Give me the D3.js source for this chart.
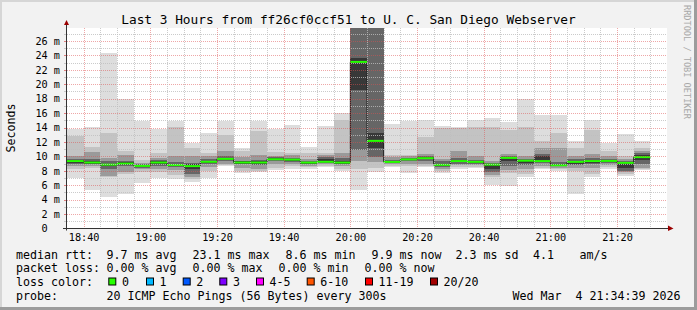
<!DOCTYPE html>
<html lang="en">
<head>
  <meta charset="utf-8">
  <title>Last 3 Hours from ff26cf0ccf51 to U. C. San Diego Webserver</title>
  <style>
    body { margin: 0; background: #f2f2f2; }
    svg { display: block; font-family: "DejaVu Sans Mono", monospace; }
    .pre { white-space: pre; }
  </style>
</head>
<body>
  <script src="https://cdnjs.cloudflare.com/ajax/libs/d3/7.8.5/d3.min.js"></script>
  <script type="text/javascript">
  // one smoke bar every 5 minutes (start time of each step)
  const times = ["18:35", "18:40", "18:45", "18:50", "18:55", "19:00", "19:05", "19:10", "19:15", "19:20",
                 "19:25", "19:30", "19:35", "19:40", "19:45", "19:50", "19:55", "20:00", "20:05", "20:10",
                 "20:15", "20:20", "20:25", "20:30", "20:35", "20:40", "20:45", "20:50", "20:55", "21:00",
                 "21:05", "21:10", "21:15", "21:20", "21:25"];

  // median rtt in ms
  const median = [9.35, 9.15, 8.85, 9.0, 8.68, 9.15, 8.8, 8.65, 9.25, 9.65,
                  9.15, 9.15, 9.6, 9.55, 9.14, 9.25, 9.14, 23.1, 12.15, 9.23,
                  9.58, 9.75, 8.82, 9.35, 9.24, 8.85, 9.79, 9.4, 9.35, 8.77,
                  9.24, 9.35, 9.37, 9.1, 9.9];
  // packet loss per step (all 0 of 20)
  const loss = [0, 0, 0, 0, 0, 0, 0, 0, 0, 0, 0, 0, 0, 0, 0, 0, 0, 0, 0, 0,
                0, 0, 0, 0, 0, 0, 0, 0, 0, 0, 0, 0, 0, 0, 0];

  // smoke: outer (min..max) to inner bands of the 20 pings
  const pMin = [7.0, 5.3, 4.4, 4.85, 6.35, 7.05, 6.85, 6.45, 7.05, 8.6,
                7.65, 7.8, 8.1, 8.3, 8.3, 8.5, 8.0, 5.3, 7.9, 8.5,
                7.7, 8.5, 7.7, 8.3, 8.35, 6.0, 5.9, 7.15, 8.3, 8.0,
                4.85, 7.15, 8.3, 7.3, 8.1];
  const pMax = [13.8, 14.1, 24.3, 18.0, 14.85, 13.8, 14.85, 11.9, 13.2, 14.9,
                11.1, 14.9, 13.8, 14.35, 11.35, 14.2, 16.0, 40, 40, 14.45,
                14.9, 15.0, 14.2, 14.05, 15.0, 15.35, 14.8, 18.0, 15.7, 15.7,
                12.2, 15.0, 11.9, 13.1, 12.2];
  const band1Lo = [8.3, 8.4, 7.1, 7.6, 7.9, 7.9, 7.4, 6.9, 8.0, 8.8,
                   8.0, 8.0, 8.4, 8.6, 8.5, 8.6, 8.2, 8.3, 8.4, 8.7,
                   8.6, 8.7, 8.0, 8.5, 8.5, 7.2, 7.7, 7.6, 8.4, 8.2,
                   8.0, 7.6, 8.5, 7.5, 8.2];
  const band1Hi = [12.8, 11.3, 13.2, 10.8, 9.5, 10.5, 14.1, 11.1, 10.4, 13.0,
                   10.7, 13.5, 10.6, 10.4, 10.5, 10.5, 15.0, 40, 40, 10.2,
                   10.2, 12.7, 14.0, 13.9, 14.1, 14.1, 13.6, 14.1, 12.2, 13.2,
                   11.1, 13.6, 10.8, 10.0, 11.1];
  const band2Lo = [8.6, 8.7, 7.3, 7.9, 8.2, 8.2, 8.1, 7.1, 8.5, 9.0,
                   8.4, 8.3, 8.9, 8.9, 8.7, 8.9, 8.6, 9.3, 9.2, 8.9,
                   8.9, 9.0, 8.3, 8.8, 8.8, 7.4, 8.1, 8.3, 8.7, 8.4,
                   8.4, 8.4, 8.8, 7.8, 8.4];
  const band2Hi = [10.1, 10.6, 9.8, 10.2, 9.1, 9.8, 10.0, 10.0, 10.0, 10.8,
                   9.9, 10.2, 10.1, 10.2, 9.7, 10.2, 10.4, 40, 40, 9.9,
                   10.0, 10.3, 9.7, 10.8, 10.0, 9.4, 10.3, 10.0, 11.1, 11.2,
                   10.0, 10.3, 10.1, 9.6, 10.8];
  const band3Lo = [8.9, 8.9, 8.2, 8.6, 8.4, 8.6, 8.5, 7.6, 8.9, 9.3,
                   8.9, 8.8, 9.3, 9.2, 8.9, 9.1, 8.9, 10.85, 9.9, 9.1,
                   9.3, 9.4, 8.5, 9.0, 9.0, 7.8, 8.6, 8.8, 9.1, 8.6,
                   8.8, 8.9, 9.1, 8.0, 8.9];
  const band3Hi = [9.7, 9.6, 9.3, 9.4, 8.9, 9.5, 9.2, 9.1, 9.6, 10.0,
                   9.4, 9.5, 9.9, 9.8, 9.3, 9.9, 9.8, 40, 40, 9.5,
                   9.8, 10.0, 9.3, 9.8, 9.5, 9.1, 10.0, 9.7, 10.3, 9.2,
                   9.6, 9.8, 9.7, 9.3, 10.4];
  const band4Lo = [9.1, 9.0, 8.6, 8.8, 8.55, 8.9, 8.65, 8.3, 9.1, 9.5,
                   9.0, 9.0, 9.45, 9.4, 9.0, 9.2, 9.0, 19.2, 11.1, 9.15,
                   9.45, 9.6, 8.65, 9.2, 9.1, 8.3, 9.3, 9.1, 9.4, 8.7,
                   9.0, 9.1, 9.25, 8.4, 9.5];
  const band4Hi = [9.5, 9.3, 9.0, 9.2, 8.8, 9.3, 8.95, 8.9, 9.4, 9.8,
                   9.3, 9.3, 9.75, 9.7, 9.25, 9.7, 9.4, 23.6, 13.3, 9.35,
                   9.7, 9.9, 9.0, 9.5, 9.35, 9.0, 9.9, 9.55, 10.0, 8.95,
                   9.4, 9.5, 9.5, 9.2, 10.2];

  const yTicks = [0, 2, 4, 6, 8, 10, 12, 14, 16, 18, 20, 22, 24, 26];
  const xTicks = ["18:40", "19:00", "19:20", "19:40", "20:00", "20:20", "20:40", "21:00", "21:20"];

  const lossLabels = ["0", "1", "2", "3", "4-5", "6-10", "11-19", "20/20"];
  const lossColors = ["#26ff00", "#00b8ff", "#0059ff", "#7e00ff", "#ff00ff", "#ff5500", "#ff0000", "#a10000"];
  const smokeColors = ["#dddddd", "#c3c3c3", "#9a9a9a", "#666666", "#383838"];

  const W = 697, H = 310;
  const plot = { left: 67, right: 667, top: 28, bottom: 228.5 };

  const parse = (t) => {
    const p = t.split(":");
    return new Date(2026, 2, 4, +p[0], +p[1]);
  };
  const stepEnd = (t) => d3.timeMinute.offset(parse(t), 5);

  const x = d3.scaleTime()
    .domain([parse("18:35"), parse("21:35")])
    .range([plot.left, plot.right]);

  const y = d3.scaleLinear()
    .domain([0, 27.8])
    .range([plot.bottom, plot.top]);

  const svg = d3.select("body")
    .append("svg")
    .attr("width", W)
    .attr("height", H);

  // background + 3d border
  svg.append("rect").attr("width", W).attr("height", H).attr("fill", "#f2f2f2");
  svg.append("rect").attr("x", 0).attr("y", 0).attr("width", W).attr("height", 2).attr("fill", "#d6d6d6");
  svg.append("rect").attr("x", 0).attr("y", 0).attr("width", 2).attr("height", H).attr("fill", "#d6d6d6");
  svg.append("rect").attr("x", W - 3).attr("y", 0).attr("width", 3).attr("height", H).attr("fill", "#9c9c9c");
  svg.append("rect").attr("x", 0).attr("y", H - 3).attr("width", W).attr("height", 3).attr("fill", "#9c9c9c");

  svg.append("defs").append("clipPath").attr("id", "clip")
    .append("rect")
    .attr("x", plot.left).attr("y", plot.top)
    .attr("width", plot.right - plot.left).attr("height", plot.bottom - plot.top);

  svg.append("rect")
    .attr("x", plot.left).attr("y", plot.top)
    .attr("width", plot.right - plot.left).attr("height", plot.bottom - plot.top)
    .attr("fill", "#ffffff");

  const g = svg.append("g").attr("clip-path", "url(#clip)");

  // smoke
  const bands = [[pMin, pMax], [band1Lo, band1Hi], [band2Lo, band2Hi], [band3Lo, band3Hi], [band4Lo, band4Hi]];
  bands.forEach((b, i) => {
    g.append("g").selectAll("rect")
      .data(times)
      .enter()
      .append("rect")
      .attr("x", (d) => x(parse(d)))
      .attr("width", (d) => x(stepEnd(d)) - x(parse(d)))
      .attr("y", (d, j) => y(b[1][j]))
      .attr("height", (d, j) => y(b[0][j]) - y(b[1][j]))
      .attr("fill", smokeColors[i])
      .attr("shape-rendering", "crispEdges");
  });

  // grid (drawn over the smoke, semi transparent)
  const minorCol = "rgba(190,190,190,0.8)", majorCol = "rgba(222,79,79,0.5)";
  const grid = svg.append("g").attr("shape-rendering", "crispEdges");
  const hMinor = d3.range(1, 28).filter((v) => v % 2 === 1);
  const hMajor = d3.range(2, 28, 2);
  const hy = (v) => Math.round(y(v)) + 0.5;
  grid.selectAll(".hminor").data(hMinor).enter().append("line")
    .attr("x1", plot.left).attr("x2", plot.right)
    .attr("y1", hy).attr("y2", hy)
    .attr("stroke", minorCol).attr("stroke-dasharray", "1,1");
  grid.selectAll(".hmajor").data(hMajor).enter().append("line")
    .attr("x1", plot.left).attr("x2", plot.right)
    .attr("y1", hy).attr("y2", hy)
    .attr("stroke", majorCol).attr("stroke-dasharray", "1,1");

  const vAll = d3.timeMinute.every(5).range(parse("18:40"), parse("21:35"));
  const vx = (d) => Math.round(x(d)) + 0.5;
  grid.selectAll(".vminor").data(vAll.filter((d) => d.getMinutes() % 20 !== 0)).enter().append("line")
    .attr("x1", vx).attr("x2", vx)
    .attr("y1", plot.top).attr("y2", plot.bottom)
    .attr("stroke", minorCol).attr("stroke-dasharray", "1,1");
  grid.selectAll(".vmajor").data(vAll.filter((d) => d.getMinutes() % 20 === 0)).enter().append("line")
    .attr("x1", vx).attr("x2", vx)
    .attr("y1", plot.top).attr("y2", plot.bottom)
    .attr("stroke", majorCol).attr("stroke-dasharray", "1,1");

  // median line + loss colored band
  const medPts = times.map((t, i) => ({ t: parse(t), v: median[i] }));
  medPts.push({ t: stepEnd(times[times.length - 1]), v: median[median.length - 1] });
  g.append("path")
    .datum(medPts)
    .attr("fill", "none")
    .attr("stroke", "#202020")
    .attr("stroke-width", 1)
    .attr("d", d3.line().x((d) => x(d.t)).y((d) => y(d.v)).curve(d3.curveStepAfter));

  g.append("g").selectAll("rect")
    .data(times)
    .enter()
    .append("rect")
    .attr("x", (d) => x(parse(d)))
    .attr("width", (d) => x(stepEnd(d)) - x(parse(d)))
    .attr("y", (d, i) => y(median[i]) - 1)
    .attr("height", 2)
    .attr("fill", (d, i) => lossColors[loss[i]]);

  // axis ticks on the y axis
  grid.selectAll(".ytick").data(d3.range(1, 28)).enter().append("line")
    .attr("x1", plot.left - 3).attr("x2", plot.left)
    .attr("y1", hy).attr("y2", hy)
    .attr("stroke", (d) => d % 2 ? "#c8c8c8" : "#e08080");

  // axes
  const axisCol = "#333333", arrowCol = "#9b0000";
  svg.append("line")
    .attr("x1", plot.left - 0.5).attr("x2", plot.left - 0.5)
    .attr("y1", plot.bottom + 2).attr("y2", 24)
    .attr("stroke", axisCol);
  svg.append("line")
    .attr("x1", 63).attr("x2", 669)
    .attr("y1", plot.bottom).attr("y2", plot.bottom)
    .attr("stroke", axisCol);
  svg.append("path")
    .attr("d", `M${plot.left - 3},25 L${plot.left + 2},25 L${plot.left - 0.5},20 Z`)
    .attr("fill", arrowCol);
  svg.append("path")
    .attr("d", `M668,${plot.bottom - 3} L668,${plot.bottom + 2.5} L673.5,${plot.bottom} Z`)
    .attr("fill", arrowCol);

  const yAxis = d3.axisLeft(y)
    .tickValues(yTicks)
    .tickSize(0)
    .tickPadding(7)
    .tickFormat((v) => v === 0 ? "0  " : v + " m");
  const yAxisGroup = svg.append("g")
    .attr("transform", `translate(${plot.left},0)`)
    .call(yAxis);
  yAxisGroup.select(".domain").remove();
  yAxisGroup.selectAll("text")
    .attr("class", "pre")
    .attr("font-family", "DejaVu Sans Mono")
    .attr("font-size", "10.2px")
    .attr("fill", "#000");

  const xAxis = d3.axisBottom(x)
    .tickValues(xTicks.map(parse))
    .tickSize(0)
    .tickPadding(5.5)
    .tickFormat(d3.timeFormat("%H:%M"));
  const xAxisGroup = svg.append("g")
    .attr("transform", `translate(0,${plot.bottom})`)
    .call(xAxis);
  xAxisGroup.select(".domain").remove();
  xAxisGroup.selectAll("text")
    .attr("font-family", "DejaVu Sans Mono")
    .attr("font-size", "10.2px")
    .attr("fill", "#000");

  // title
  svg.append("text")
    .attr("x", 348.5)
    .attr("y", 24)
    .attr("text-anchor", "middle")
    .style("font-size", "12.8px")
    .text("Last 3 Hours from ff26cf0ccf51 to U. C. San Diego Webserver");

  // vertical label
  svg.append("text")
    .attr("transform", "translate(15,128) rotate(-90)")
    .attr("text-anchor", "middle")
    .style("font-size", "11.6px")
    .text("Seconds");

  // watermark
  svg.append("text")
    .attr("transform", "translate(684,5) rotate(90)")
    .style("font-size", "8.6px")
    .attr("fill", "#a8a8a8")
    .text("RRDTOOL / TOBI OETIKER");

  // legend
  const legendRows = [
    [[16, "median rtt:"], [106.5, "9.7 ms avg"], [192.5, "23.1 ms max"], [285.5, "8.6 ms min"],
     [371.5, "9.9 ms now"], [455.5, "2.3 ms sd"], [533, "4.1"], [579.5, "am/s"]],
    [[16, "packet loss:"], [106.5, "0.00 % avg"], [192.5, "0.00 % max"], [278.5, "0.00 % min"],
     [364.5, "0.00 % now"]],
    [[16, "loss color:"]],
    [[16, "probe:"], [106.5, "20 ICMP Echo Pings (56 Bytes) every 300s"]]
  ];
  const rowY = [258.5, 272.4, 286.4, 300.2];
  const legend = svg.append("g").style("font-size", "11.63px");
  legendRows.forEach((row, r) => {
    row.forEach((item) => {
      legend.append("text")
        .attr("class", "pre")
        .attr("x", item[0])
        .attr("y", rowY[r])
        .text(item[1]);
    });
  });
  legend.append("text")
    .attr("x", 680.5)
    .attr("y", rowY[3])
    .attr("text-anchor", "end")
    .attr("class", "pre")
    .text("Wed Mar  4 21:34:39 2026");

  const swatchX = [108.3, 146, 182.7, 219.3, 256, 306.7, 365, 430];
  const sw = legend.selectAll(".swatch")
    .data(lossLabels)
    .enter()
    .append("g")
    .attr("transform", (d, i) => `translate(${swatchX[i]}, 277.5)`);
  sw.append("rect")
    .attr("x", 0.5).attr("y", 0.5)
    .attr("width", 7).attr("height", 7)
    .attr("fill", (d, i) => lossColors[i])
    .attr("stroke", "#000");
  sw.append("text")
    .attr("x", 13.6)
    .attr("y", rowY[2] - 277.5)
    .text((d) => d);
  </script>
</body>
</html>
